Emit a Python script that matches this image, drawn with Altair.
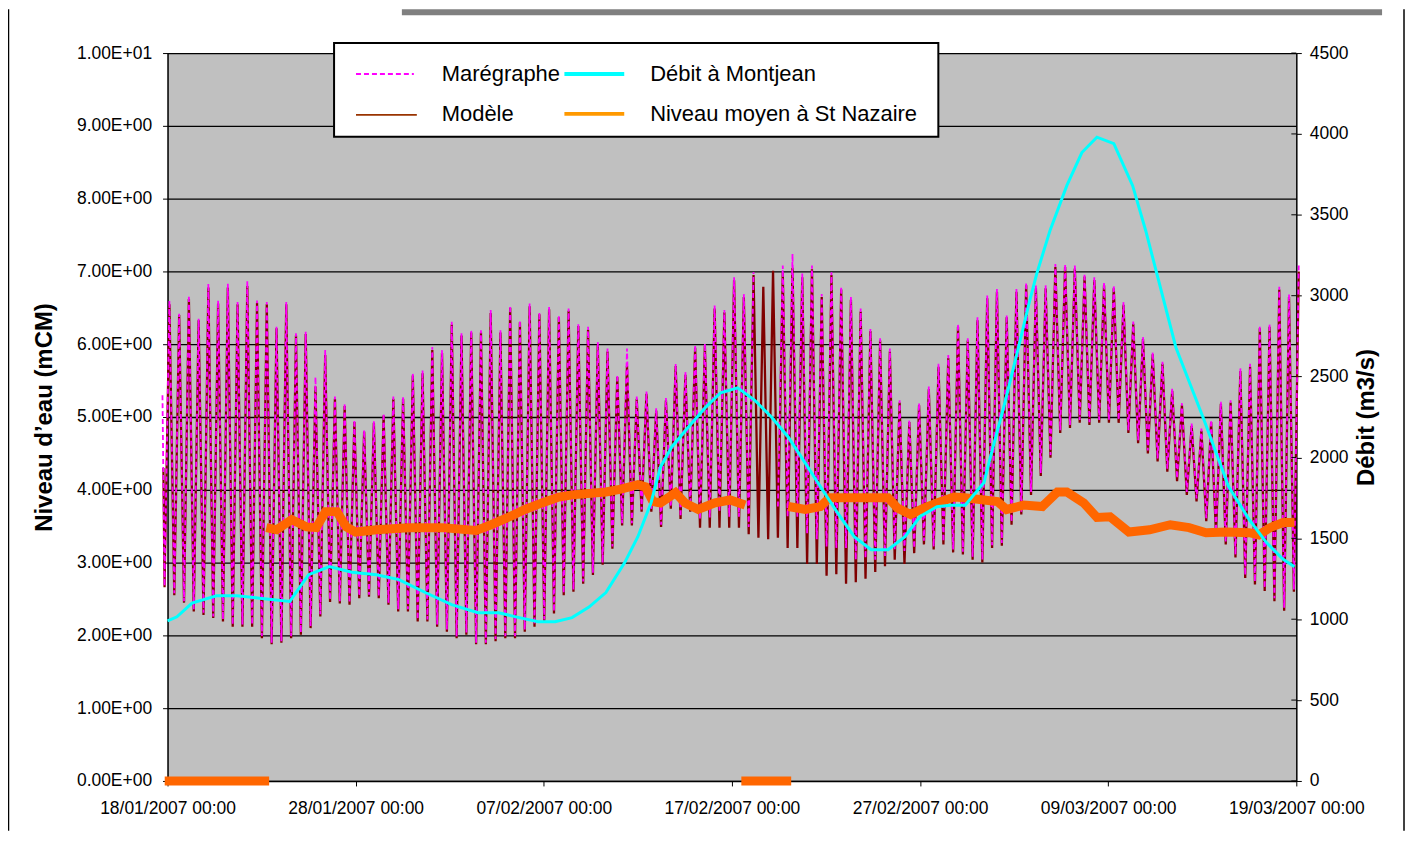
import json
import altair as alt
import pandas as pd

# ---------------- axis text ----------------
X_TICK_DAYS = [0, 10, 20, 30, 40, 50, 60]
X_TICK_LABELS = ["18/01/2007 00:00", "28/01/2007 00:00", "07/02/2007 00:00",
                 "17/02/2007 00:00", "27/02/2007 00:00", "09/03/2007 00:00",
                 "19/03/2007 00:00"]
Y_LEFT_TICKS = [0, 1, 2, 3, 4, 5, 6, 7, 8, 9, 10]
Y_LEFT_LABELS = ["0.00E+00", "1.00E+00", "2.00E+00", "3.00E+00", "4.00E+00",
                 "5.00E+00", "6.00E+00", "7.00E+00", "8.00E+00", "9.00E+00",
                 "1.00E+01"]
Y_RIGHT_TICKS = [0, 500, 1000, 1500, 2000, 2500, 3000, 3500, 4000, 4500]
LEFT_TITLE = "Niveau d\u2019eau (mCM)"
RIGHT_TITLE = "Débit (m3/s)"
LEGEND_LABELS = ["Marégraphe", "Débit à Montjean", "Modèle", "Niveau moyen à St Nazaire"]

# ---------------- tide series (days after 18/01/2007 00:00) ----------------
TIDE_FIRST_HIGH_DAY = 0.1
TIDE_PERIOD_DAYS = 0.5175

MAREGRAPHE_START = (-0.27, 5.30)
MAREGRAPHE_HIGH = [
    6.60, 6.42, 6.67, 6.35, 6.83, 6.60, 6.83, 6.58, 6.87, 6.60,
    6.58, 6.24, 6.58, 6.15, 6.17, 5.55, 5.92, 5.28, 5.19, 4.96,
    4.82, 4.94, 5.05, 5.28, 5.28, 5.60, 5.64, 5.96, 5.92, 6.31,
    6.15, 6.19, 6.19, 6.47, 6.19, 6.53, 6.33, 6.56, 6.44, 6.51,
    6.40, 6.49, 6.28, 6.24, 6.03, 5.94, 5.58, 5.94, 5.28, 5.35,
    5.12, 5.26, 5.73, 5.62, 5.99, 6.01, 6.53, 6.47, 6.92, 6.69,
    6.99, None, None, 7.08, 7.24, 6.97, 7.08, 6.69, 6.99, 6.79,
    6.65, 6.49, 6.21, 6.08, 5.94, 5.23, 4.96, 5.19, 5.42, 5.73,
    5.85, 6.28, 6.08, 6.37, 6.67, 6.76, 6.40, 6.76, 6.85, 6.81,
    6.81, 7.10, 7.10, 7.08, 6.97, 6.92, 6.85, 6.81, 6.58, 6.31,
    6.10, 5.89, 5.76, 5.39, 5.19, 4.91, 4.84, 4.96, 5.21, 5.23,
    5.67, 5.73, 6.26, 6.28, 6.79, 6.69, 7.10]
MAREGRAPHE_LOW = [
    2.68,
    2.58, 2.47, 2.36, 2.31, 2.26, 2.22, 2.15, 2.15, 2.15, 1.99,
    1.90, 1.92, 1.99, 2.04, 2.13, 2.29, 2.49, 2.47, 2.45, 2.54,
    2.56, 2.54, 2.45, 2.36, 2.36, 2.22, 2.22, 2.15, 2.08, 1.99,
    2.04, 1.90, 1.90, 1.95, 1.99, 1.99, 2.08, 2.15, 2.22, 2.33,
    2.58, 2.63, 2.74, 2.86, 3.00, 3.22, 3.54, 3.54, 3.73, 3.73,
    3.52, 3.77, 3.63, 3.73, 3.60, 3.62, 3.70, 3.63, 3.63, 3.49,
    None, None, 3.77, 3.63, 3.63, 3.40, 3.32, 3.22, 3.20, 3.20,
    3.04, 3.06, 3.04, 3.09, 3.18, 3.16, 3.20, 3.30, 3.22, 3.29,
    3.18, 3.15, 3.08, 3.04, 3.24, 3.27, 3.56, 3.70, 3.97, 4.23,
    4.48, 4.82, 4.89, 4.96, 4.93, 4.96, 4.96, 4.96, 4.82, 4.68,
    4.54, 4.43, 4.29, 4.16, 3.97, 3.88, 3.61, 3.43, 3.29, 3.11,
    2.83, 2.74, 2.65, 2.51, 2.38, 2.63]

MODELE_START = (-0.22, 4.30)
MODELE_HIGH = [
    6.55, 6.40, 6.62, 6.33, 6.78, 6.56, 6.78, 6.55, 6.80, 6.57,
    6.55, 6.22, 6.55, 6.12, 6.14, 5.42, 5.85, 5.25, 5.15, 4.93,
    4.80, 4.92, 5.02, 5.25, 5.25, 5.57, 5.60, 5.92, 5.88, 6.27,
    6.12, 6.16, 6.16, 6.43, 6.16, 6.50, 6.30, 6.52, 6.41, 6.48,
    6.37, 6.46, 6.25, 6.20, 6.00, 5.90, 5.55, 5.70, 5.25, 5.32,
    5.09, 5.23, 5.70, 5.58, 5.95, 5.98, 6.49, 6.44, 6.88, 6.65,
    6.95, 6.79, 7.01, 6.99, 7.05, 6.92, 7.03, 6.65, 6.95, 6.75,
    6.61, 6.45, 6.18, 6.05, 5.90, 5.20, 4.93, 5.16, 5.38, 5.69,
    5.81, 6.24, 6.05, 6.33, 6.63, 6.72, 6.37, 6.72, 6.81, 6.77,
    6.77, 7.06, 7.06, 7.04, 6.93, 6.88, 6.81, 6.77, 6.54, 6.28,
    6.07, 5.86, 5.73, 5.36, 5.16, 4.88, 4.81, 4.93, 5.18, 5.20,
    5.63, 5.69, 6.22, 6.24, 6.75, 6.65, 7.00]
MODELE_LOW = [
    2.66,
    2.55, 2.45, 2.33, 2.28, 2.24, 2.19, 2.12, 2.12, 2.12, 1.96,
    1.88, 1.90, 1.96, 2.01, 2.10, 2.26, 2.46, 2.44, 2.42, 2.51,
    2.53, 2.51, 2.42, 2.33, 2.33, 2.19, 2.19, 2.12, 2.05, 1.96,
    2.01, 1.88, 1.88, 1.92, 1.96, 1.96, 2.05, 2.12, 2.20, 2.30,
    2.55, 2.60, 2.71, 2.83, 2.97, 3.19, 3.51, 3.51, 3.70, 3.70,
    3.49, 3.74, 3.60, 3.70, 3.48, 3.48, 3.48, 3.48, 3.48, 3.39,
    3.34, 3.32, 3.34, 3.20, 3.20, 2.98, 2.98, 2.82, 2.84, 2.71,
    2.73, 2.78, 2.87, 2.95, 3.04, 2.98, 3.13, 3.25, 3.18, 3.25,
    3.14, 3.11, 3.04, 3.00, 3.20, 3.23, 3.52, 3.66, 3.93, 4.19,
    4.44, 4.78, 4.85, 4.92, 4.89, 4.92, 4.92, 4.92, 4.78, 4.64,
    4.50, 4.39, 4.25, 4.12, 3.93, 3.84, 3.57, 3.39, 3.25, 3.07,
    2.79, 2.70, 2.61, 2.47, 2.34, 2.60]

# ---------------- discharge at Montjean (m3/s) ----------------
DEBIT_DAYS = [0.0, 0.5, 1.3, 2.6, 3.7, 4.9, 6.5, 7.5, 8.6, 9.8,
              11.1, 12.3, 13.7, 15.1, 16.5, 17.6, 18.7, 19.7, 20.6, 21.5,
              22.4, 23.3, 24.3, 25.0, 25.7, 26.2, 26.8, 27.7, 28.6, 29.4,
              30.3, 31.2, 32.1, 33.0, 33.9, 34.7, 35.6, 36.5, 37.4, 38.3,
              39.2, 40.0, 40.9, 41.6, 42.4, 43.4, 43.7, 44.5, 45.2, 45.8,
              46.2, 46.9, 47.8, 48.6, 49.4, 50.3, 51.3, 52.0, 53.6, 55.1,
              56.4, 57.5, 58.4, 59.3, 59.9]
DEBIT_VALUES = [990, 1015, 1100, 1145, 1145, 1130, 1110, 1275, 1325, 1290,
                1275, 1245, 1165, 1090, 1040, 1040, 1010, 985, 985, 1010,
                1075, 1165, 1350, 1510, 1720, 1940, 2065, 2190, 2310, 2400,
                2430, 2355, 2250, 2125, 1965, 1820, 1660, 1510, 1430, 1430,
                1510, 1635, 1695, 1705, 1705, 1845, 1985, 2335, 2665, 2955,
                3135, 3400, 3680, 3885, 3980, 3940, 3680, 3400, 2680, 2230,
                1820, 1615, 1475, 1370, 1325]

# ---------------- mean level at St Nazaire (mCM) ----------------
NIVEAU_DAYS_A = [5.25, 5.8, 6.6, 7.4, 7.9, 8.4, 9.0, 9.5, 10.0, 11.1,
                 12.8, 14.6, 16.4, 17.2, 18.1, 19.0, 19.9, 20.8, 21.5, 23.3,
                 24.1, 25.0, 25.4, 25.8, 26.2, 27.0, 27.5, 28.2, 29.1, 29.9,
                 30.7]
NIVEAU_A = [3.48, 3.45, 3.59, 3.49, 3.48, 3.70, 3.70, 3.49, 3.42, 3.45,
            3.48, 3.48, 3.44, 3.52, 3.62, 3.73, 3.82, 3.90, 3.93, 3.97,
            4.01, 4.07, 4.04, 3.84, 3.82, 3.96, 3.82, 3.73, 3.82, 3.86,
            3.79]
NIVEAU_DAYS_B = [33.0, 33.9, 34.7, 35.2, 36.5, 38.3, 38.8, 39.5, 40.2, 40.9,
                 41.8, 42.4, 43.4, 44.1, 44.6, 45.5, 46.5, 47.3, 47.8, 48.7,
                 49.4, 50.1, 51.1, 52.2, 53.3, 54.3, 55.2, 56.3, 57.5, 58.0,
                 58.6, 59.3, 59.9]
NIVEAU_B = [3.77, 3.73, 3.77, 3.89, 3.89, 3.89, 3.75, 3.66, 3.75, 3.82,
            3.90, 3.89, 3.86, 3.84, 3.73, 3.79, 3.77, 3.97, 3.97, 3.82,
            3.62, 3.63, 3.42, 3.45, 3.52, 3.48, 3.41, 3.42, 3.41, 3.38,
            3.48, 3.55, 3.55]
NIVEAU_ZERO_SPANS = [(-0.15, 5.4), (30.5, 33.15)]

# ---------------- colours ----------------
C_MAREGRAPHE = "#FF00FF"
C_MODELE = "#800000"
C_DEBIT = "#00FFFF"
C_NIVEAU = "#FF6600"
FONT = "Liberation Sans"


def tide_frame(start, highs, lows):
    days = [start[0]]
    levels = [start[1]]
    for j in range(len(lows)):
        days.append(TIDE_FIRST_HIGH_DAY - TIDE_PERIOD_DAYS / 2 + j * TIDE_PERIOD_DAYS)
        levels.append(lows[j])
        if j < len(highs):
            days.append(TIDE_FIRST_HIGH_DAY + j * TIDE_PERIOD_DAYS)
            levels.append(highs[j])
    rows, seg, gap = [], 0, False
    for d, v in zip(days, levels):
        if v is None:
            if not gap:
                seg += 1
            gap = True
            continue
        gap = False
        rows.append({"day": d, "level": v, "seg": seg})
    return pd.DataFrame(rows)


mareg_df = tide_frame(MAREGRAPHE_START, MAREGRAPHE_HIGH, MAREGRAPHE_LOW)
model_df = tide_frame(MODELE_START, MODELE_HIGH, MODELE_LOW)
debit_df = pd.DataFrame({"day": DEBIT_DAYS, "debit": DEBIT_VALUES})

niv_rows = []
for d, v in zip(NIVEAU_DAYS_A, NIVEAU_A):
    niv_rows.append({"day": d, "level": v, "seg": "A"})
for d, v in zip(NIVEAU_DAYS_B, NIVEAU_B):
    niv_rows.append({"day": d, "level": v, "seg": "B"})
for i, (d0, d1) in enumerate(NIVEAU_ZERO_SPANS):
    niv_rows.append({"day": d0, "level": 0.0, "seg": f"Z{i}"})
    niv_rows.append({"day": d1, "level": 0.0, "seg": f"Z{i}"})
niv_df = pd.DataFrame(niv_rows)

x_label_expr = json.dumps(X_TICK_LABELS) + "[round(datum.value / 10)]"
y_label_expr = json.dumps(Y_LEFT_LABELS) + "[round(datum.value)]"

x_scale = alt.Scale(domain=[0, 60], nice=False, zero=False)
y_left_scale = alt.Scale(domain=[0, 10], nice=False)
y_right_scale = alt.Scale(domain=[0, 4500], nice=False)

x_axis = alt.Axis(values=X_TICK_DAYS, labelExpr=x_label_expr, title=None, grid=False,
                  tickSize=5, labelPadding=14, labelOverlap=False, labelFlush=False,
                  domainColor="#000000", domainWidth=1.5, tickColor="#000000")
y_left_axis = alt.Axis(values=Y_LEFT_TICKS, labelExpr=y_label_expr, title=LEFT_TITLE,
                       grid=True, gridColor="#000000", gridWidth=1.3,
                       tickSize=5, labelPadding=11, domainColor="#000000", domainWidth=1.5,
                       titleFontSize=24, titleFontWeight="bold", titleAngle=270,
                       titleX=-123, titleY=365, titleAlign="center", titleBaseline="middle")
y_right_axis = alt.Axis(values=Y_RIGHT_TICKS, format="d", title=RIGHT_TITLE, orient="right",
                        grid=False, tickSize=5, labelPadding=8, domainColor="#000000",
                        domainWidth=1.5, titleFontSize=24, titleFontWeight="bold",
                        titleAngle=270, titleX=70, titleY=365, titleAlign="center",
                        titleBaseline="middle")

X_ENC = alt.X("day:Q", scale=x_scale, axis=x_axis)
Y_LEFT_ENC = alt.Y("level:Q", scale=y_left_scale, axis=y_left_axis)

model_line = alt.Chart(model_df).mark_line(color=C_MODELE, strokeWidth=2.3).encode(
    x=X_ENC, y=Y_LEFT_ENC, detail="seg:N",
)
mareg_line = alt.Chart(mareg_df).mark_line(color=C_MAREGRAPHE, strokeWidth=1.8,
                                           strokeDash=[5, 3]).encode(
    x=X_ENC, y=Y_LEFT_ENC, detail="seg:N",
)
niv_line = alt.Chart(niv_df).mark_line(color=C_NIVEAU, strokeWidth=9).encode(
    x=X_ENC, y=Y_LEFT_ENC, detail="seg:N",
)
left = alt.layer(model_line, mareg_line, niv_line)

debit_line = alt.Chart(debit_df).mark_line(color=C_DEBIT, strokeWidth=3).encode(
    x=X_ENC,
    y=alt.Y("debit:Q", scale=y_right_scale, axis=y_right_axis),
)

one = pd.DataFrame({"k": [0]})


def rect(x, x2, y, y2, **kw):
    return alt.Chart(one).mark_rect(**kw).encode(
        x=alt.value(x), x2=alt.value(x2), y=alt.value(y), y2=alt.value(y2))


def hline(x, x2, y, **kw):
    return alt.Chart(one).mark_rule(**kw).encode(
        x=alt.value(x), x2=alt.value(x2), y=alt.value(y))


def vline(x, y, y2, **kw):
    return alt.Chart(one).mark_rule(**kw).encode(
        x=alt.value(x), y=alt.value(y), y2=alt.value(y2))


def label(text, x, y):
    return alt.Chart(one).mark_text(text=text, align="left", baseline="middle",
                                    fontSize=22, font=FONT, color="#000000").encode(
        x=alt.value(x), y=alt.value(y))


decor = [
    rect(235, 1218, -44, -38, color="#808080"),
    vline(-159.5, -44, 780, color="#000000", strokeWidth=1.5),
    vline(1240, -44, 780, color="#000000", strokeWidth=1.5),
    # ticks of the right axis also cross into the plot area
    alt.Chart(pd.DataFrame({"debit": Y_RIGHT_TICKS})).mark_rule(color="#000000",
                                                                strokeWidth=1).encode(
        x=alt.value(1127), x2=alt.value(1132),
        y=alt.Y("debit:Q", scale=y_right_scale, axis=None)),
    rect(167, 773, -10, 84, fill="#FFFFFF", stroke="#000000", strokeWidth=2),
    hline(189, 247, 21, color=C_MAREGRAPHE, strokeWidth=2, strokeDash=[5, 3]),
    label(LEGEND_LABELS[0], 275, 21),
    hline(398, 458, 21, color=C_DEBIT, strokeWidth=4),
    label(LEGEND_LABELS[1], 484, 21),
    hline(189, 250, 62, color="#993300", strokeWidth=2),
    label(LEGEND_LABELS[2], 275, 61),
    hline(398, 458, 61, color="#FF9900", strokeWidth=4),
    label(LEGEND_LABELS[3], 484, 61),
]

chart = alt.layer(left, debit_line, *decor).resolve_scale(y="independent").properties(
    width=1132, height=730,
    autosize=alt.AutoSizeParams(type="none"),
    padding={"left": 160, "top": 44, "right": 110, "bottom": 50},
).configure(font=FONT).configure_view(stroke=None, fill="#C0C0C0").configure_axis(
    labelFont=FONT, titleFont=FONT, labelFontSize=17.5, labelColor="#000000",
    titleColor="#000000", tickColor="#000000",
)

chart.save("out.html", embed_options={"renderer": "svg", "actions": False})
